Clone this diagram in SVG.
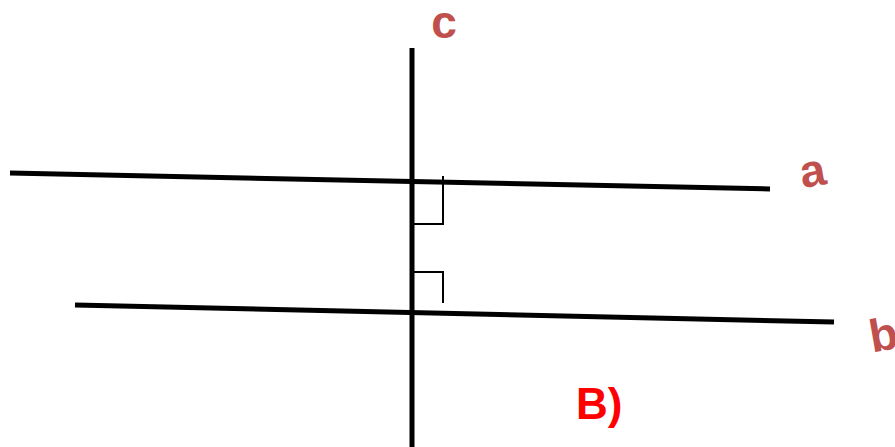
<svg xmlns="http://www.w3.org/2000/svg" width="895" height="447" viewBox="0 0 895 447">
<style>
.ln{stroke:#000;stroke-width:5;fill:none}
.rt{stroke:#000;stroke-width:2;fill:none}
.lbl{font-family:"Liberation Sans",Arial,sans-serif;font-weight:bold;fill:#c0504d;font-size:46px}
.ans{font-family:"Liberation Sans",Arial,sans-serif;font-weight:bold;fill:#ff0000;font-size:44px}
</style>
<rect width="895" height="447" fill="#fff"/>
<g id="connectors">
<line id="line-c" class="ln" x1="412" y1="48" x2="412" y2="447" stroke-width="6"/>
<line id="line-a" class="ln" x1="10" y1="173" x2="770" y2="189"/>
<line id="line-b" class="ln" x1="75" y1="305" x2="834" y2="322"/>
<polyline id="right-angle-top" class="rt" points="443,176 443,224 413,224"/>
<polyline id="right-angle-bottom" class="rt" points="413,272 443,272 443,303"/>
</g>
<g id="label-c"><text class="lbl" x="444" y="38" text-anchor="middle">c</text></g>
<g id="label-a"><text class="lbl" x="815" y="186" text-anchor="middle" transform="rotate(-10 815 186)">a</text></g>
<g id="label-b"><text class="lbl" x="886" y="350" text-anchor="middle" transform="rotate(-10 886 350)">b</text></g>
<g id="label-B"><text class="ans" x="576" y="419">B)</text></g>
</svg>
